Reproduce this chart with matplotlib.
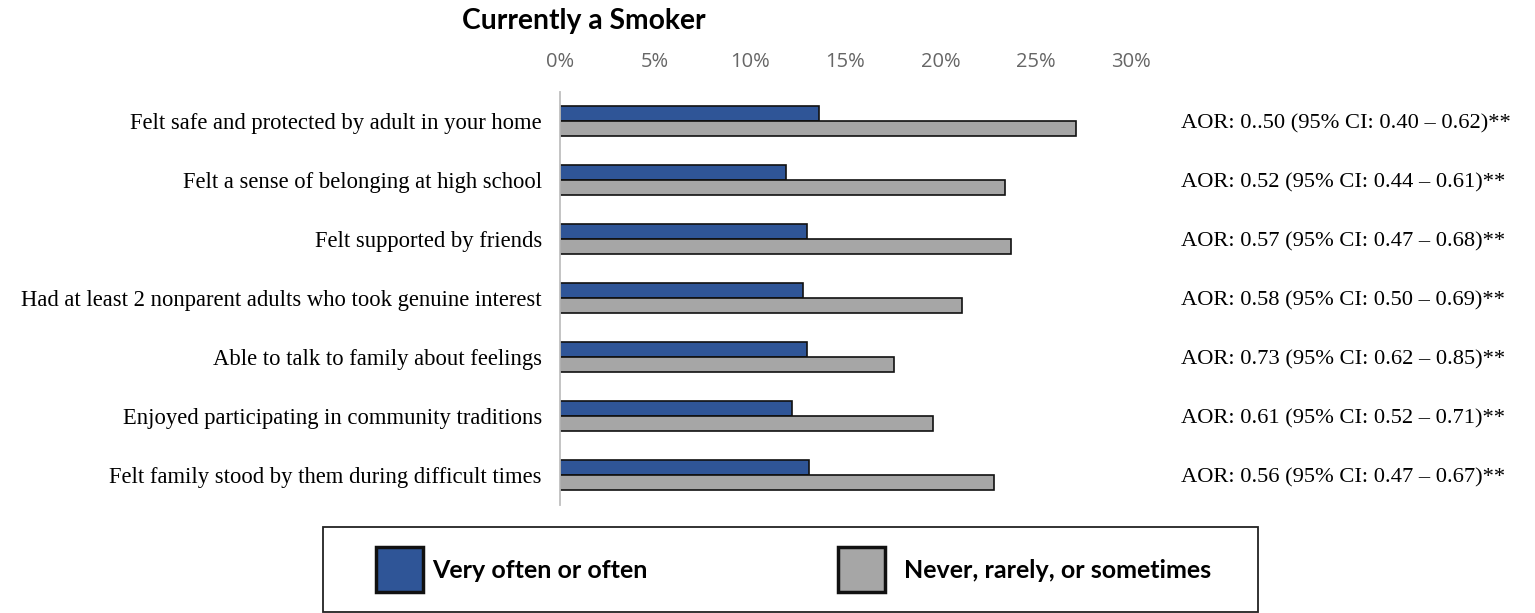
import matplotlib.pyplot as plt
from matplotlib.patches import Rectangle
from matplotlib.ticker import PercentFormatter
import numpy as np

categories = [
    "Felt safe and protected by adult in your home",
    "Felt a sense of belonging at high school",
    "Felt supported by friends",
    "Had at least 2 nonparent adults who took genuine interest",
    "Able to talk to family about feelings",
    "Enjoyed participating in community traditions",
    "Felt family stood by them during difficult times",
]
often = [13.6, 11.9, 13.0, 12.75, 13.0, 12.2, 13.1]
never = [27.1, 23.4, 23.7, 21.1, 17.55, 19.6, 22.8]
aor_labels = [
    "AOR: 0..50 (95% CI: 0.40 \u2013 0.62)**",
    "AOR: 0.52 (95% CI: 0.44 \u2013 0.61)**",
    "AOR: 0.57 (95% CI: 0.47 \u2013 0.68)**",
    "AOR: 0.58 (95% CI: 0.50 \u2013 0.69)**",
    "AOR: 0.73 (95% CI: 0.62 \u2013 0.85)**",
    "AOR: 0.61 (95% CI: 0.52 \u2013 0.71)**",
    "AOR: 0.56 (95% CI: 0.47 \u2013 0.67)**",
]
series_labels = ["Very often or often", "Never, rarely, or sometimes"]
blue = "#2f5597"
gray = "#a6a6a6"

W, H = 1535, 613
fig = plt.figure(figsize=(W / 100, H / 100), dpi=100)
ax = fig.add_axes([560 / W, 1 - 504.5 / H, 571 / W, 413 / H])

y = np.arange(len(categories))
bh = 0.26
ax.barh(y - bh / 2, often, height=bh, color=blue, edgecolor="#111111", linewidth=1.2)
ax.barh(y + bh / 2, never, height=bh, color=gray, edgecolor="#111111", linewidth=1.2)

ax.set_ylim(len(categories) - 0.5, -0.5)
ax.set_xlim(0, 30)
ax.set_xticks(range(0, 31, 5))
ax.xaxis.set_major_formatter(PercentFormatter(decimals=0))
ax.xaxis.tick_top()
ax.tick_params(axis="x", length=0, pad=14, labelsize=14.5, labelcolor="#666666")
for lab in ax.get_xticklabels():
    lab.set_family("Open Sans")
ax.set_yticks(y)
ax.set_yticklabels(categories, family="Liberation Serif", fontsize=16.3)
ax.tick_params(axis="y", length=0, pad=13)
for s in ["top", "right", "bottom"]:
    ax.spines[s].set_visible(False)
ax.spines["left"].set_color("#bfbfbf")
ax.spines["left"].set_linewidth(1.3)

for i, t in enumerate(aor_labels):
    ax.annotate(t, xy=(1, i), xycoords=("axes fraction", "data"), xytext=(36, 0),
                textcoords="offset points", ha="left", va="center_baseline",
                family="Liberation Serif", fontsize=16.2)

fig.text(462 / W, 1 - 21 / H, "Currently a Smoker", family="Lato", weight="bold",
         fontsize=20.3, ha="left", va="center")

# legend box
fig.patches.append(Rectangle((323 / W, 1 - 612 / H), 935 / W, 85 / H, transform=fig.transFigure,
                             facecolor="white", edgecolor="#222222", linewidth=1.3))
for x0, xt, c, lab in [(376, 432, blue, series_labels[0]), (838, 904, gray, series_labels[1])]:
    fig.patches.append(Rectangle((x0 / W, 1 - 592 / H), 47 / W, 45 / H, transform=fig.transFigure,
                                 facecolor=c, edgecolor="#111111", linewidth=2.5))
    fig.text(xt / W, 1 - 571 / H, lab, family="Lato", weight="bold", fontsize=18,
             ha="left", va="center")

fig.savefig("out.png", dpi=100)
